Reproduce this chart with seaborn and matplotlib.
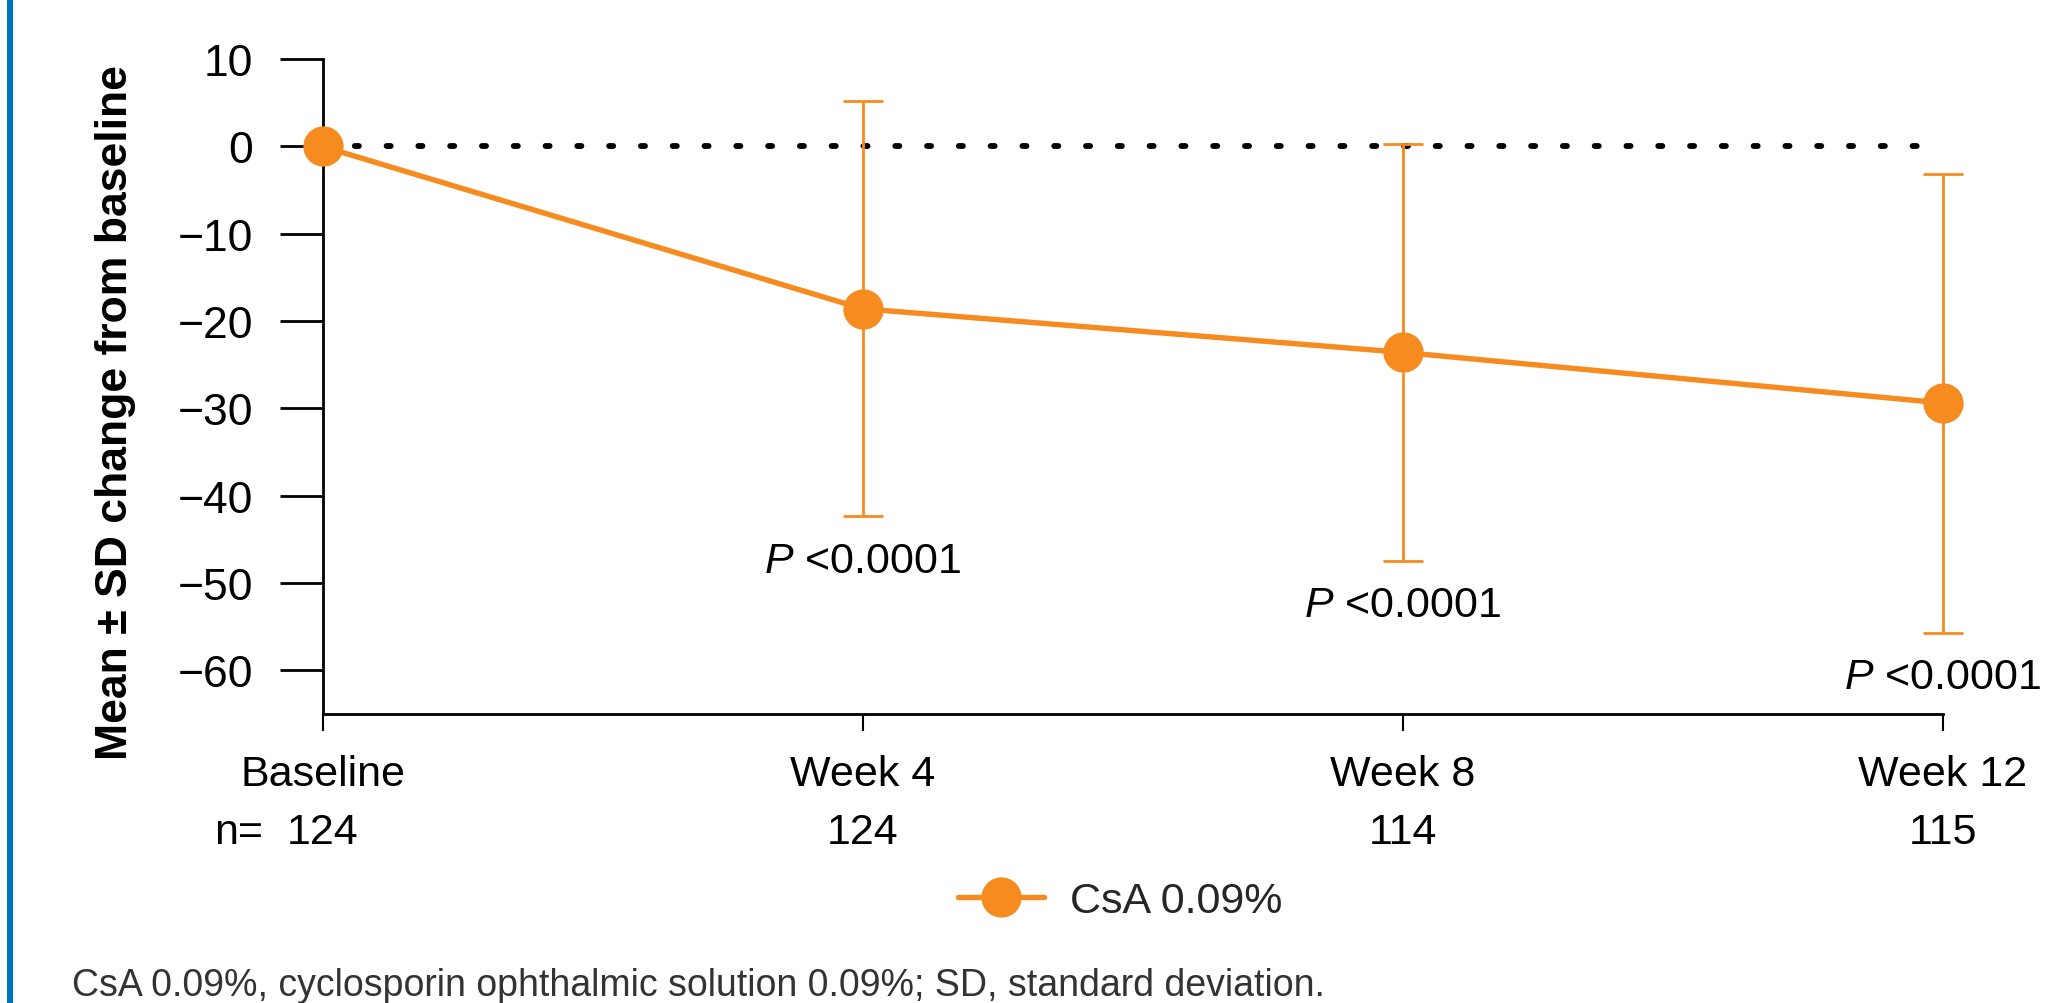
import matplotlib
matplotlib.use("Agg")
import matplotlib.pyplot as plt
from matplotlib.patches import Rectangle
from matplotlib.lines import Line2D
import seaborn as sns
import pandas as pd

# Study visits and summary statistics (CsA 0.09%)
visits = ["Baseline", "Week 4", "Week 8", "Week 12"]
n_patients = [124, 124, 114, 115]
mean_change = [0.0, -18.6, -23.6, -29.4]
sd_change = [0.0, 23.8, 23.9, 26.3]
p_labels = ["", "<0.0001", "<0.0001", "<0.0001"]
series_name = "CsA 0.09%"

ORANGE = "#F68B1F"
BLUE = "#0072BC"

sns.set_style("ticks")
plt.rcParams["font.family"] = ["Liberation Sans", "DejaVu Sans"]
plt.rcParams["mathtext.fontset"] = "custom"
plt.rcParams["mathtext.rm"] = "Liberation Sans"
plt.rcParams["mathtext.it"] = "Liberation Sans:italic"

df = pd.DataFrame({"pos": range(len(visits)), "visit": visits,
                   "mean": mean_change, "sd": sd_change})

fig = plt.figure(figsize=(20.56, 10.04), dpi=100)
ax = fig.add_axes([0.1569, 0.2882, 0.9450 - 0.1569, 0.94 - 0.2882])

# dotted reference line at zero
ax.hlines(0, 0, 2.975, colors="black", linewidth=4.2,
          linestyles=(0, (0.7, 4.75)), capstyle="round", zorder=1)

# SD error bars (baseline has none)
err = df[df["sd"] > 0]
ax.errorbar(err["pos"], err["mean"], yerr=err["sd"], fmt="none",
            ecolor=ORANGE, elinewidth=2.0, capsize=14.5, capthick=2.0,
            zorder=2, clip_on=False)

sns.lineplot(data=df, x="pos", y="mean", ax=ax, color=ORANGE,
             linewidth=3.9, marker="o", markersize=29,
             markeredgewidth=0, markerfacecolor=ORANGE, zorder=3,
             clip_on=False, legend=False)

# P-value annotations under each error bar
for pos, m, s, p in zip(df["pos"], mean_change, sd_change, p_labels):
    if p:
        ax.text(pos, m - s - 5.1, r"$\mathit{P}$ " + p, ha="center",
                va="center", fontsize=31, color="black")

ax.set_xlim(0, 3)
ax.set_ylim(-65, 10)
ax.set_yticks([10, 0, -10, -20, -30, -40, -50, -60])
ax.set_xticks(df["pos"])
ax.set_xticklabels(visits)
ax.tick_params(axis="y", labelsize=32, length=31, width=2, pad=19,
               color="black", labelcolor="black")
ax.tick_params(axis="x", labelsize=31, length=12, width=1.5, pad=17,
               color="black", labelcolor="black")
for side in ["top", "right"]:
    ax.spines[side].set_visible(False)
for side in ["left", "bottom"]:
    ax.spines[side].set_linewidth(2)
    ax.spines[side].set_color("black")
ax.set_xlabel("")
ax.set_ylabel("Mean ± SD change from baseline", fontsize=32,
              fontweight="bold", color="black", va="center")
ax.yaxis.set_label_coords(-0.128, 0.461)

# patient counts beneath the visit labels
n_trans = matplotlib.transforms.blended_transform_factory(ax.transData,
                                                          fig.transFigure)
n_y = 1 - 833 / 1004
for pos, n in zip(df["pos"], n_patients):
    ax.text(pos, n_y, str(n), transform=n_trans, ha="center",
            va="center", fontsize=31, color="black")
fig.text(239 / 2056, n_y, "n=", ha="center", va="center",
         fontsize=31, color="black")

handle = Line2D([], [], color=ORANGE, linewidth=3.9, marker="o",
                markersize=29, markeredgewidth=0)
fig.legend([handle], [series_name], loc="center",
           bbox_to_anchor=(0.545, 1 - 902 / 1004), frameon=False,
           fontsize=31, handlelength=2.0, handletextpad=0.6)

fig.text(72 / 2056, 1 - 986 / 1004,
         "CsA 0.09%, cyclosporin ophthalmic solution 0.09%; SD, standard deviation.",
         ha="left", va="center", fontsize=27, color="#333333")

fig.add_artist(Rectangle((7 / 2056, 0), 6 / 2056, 1, transform=fig.transFigure,
                         facecolor=BLUE, edgecolor="none"))

fig.savefig("out.png", dpi=100)
